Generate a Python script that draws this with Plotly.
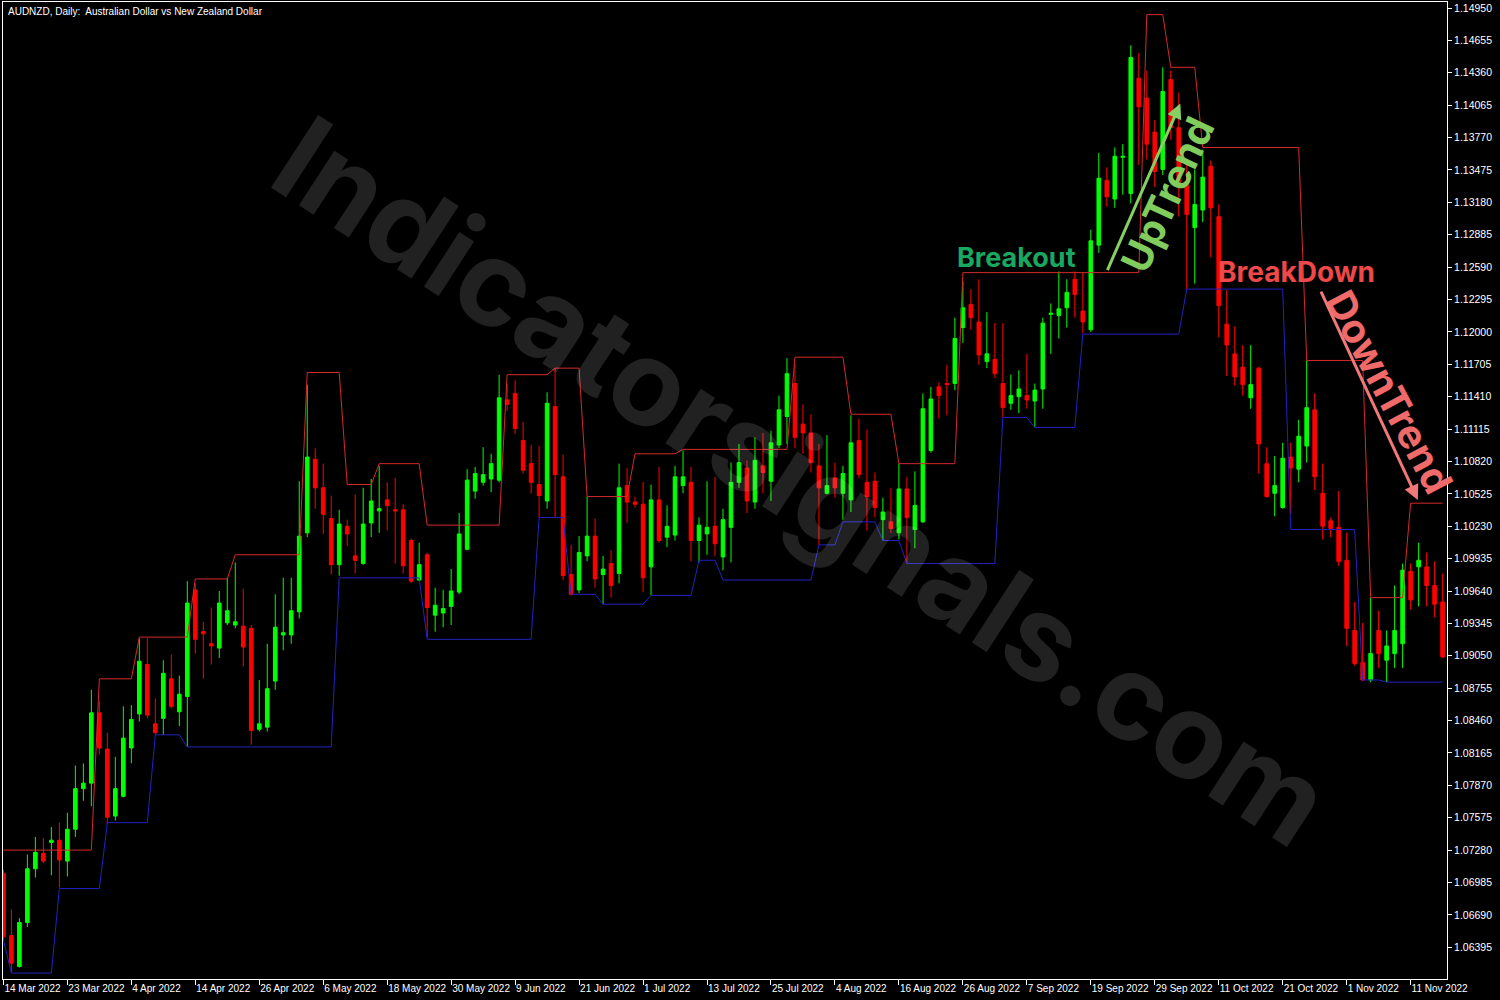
import numpy as np
import plotly.graph_objects as go

# ---------------- data ----------------
date_ticks = ["14 Mar 2022", "23 Mar 2022", "4 Apr 2022", "14 Apr 2022", "26 Apr 2022",
              "6 May 2022", "18 May 2022", "30 May 2022", "9 Jun 2022", "21 Jun 2022",
              "1 Jul 2022", "13 Jul 2022", "25 Jul 2022", "4 Aug 2022", "16 Aug 2022",
              "26 Aug 2022", "7 Sep 2022", "19 Sep 2022", "29 Sep 2022", "11 Oct 2022",
              "21 Oct 2022", "1 Nov 2022", "11 Nov 2022"]
date_tick_bars = [0, 8, 16, 24, 32, 40, 48, 56, 64, 72, 80, 88, 96, 104, 112, 120,
                  128, 136, 144, 152, 160, 168, 176]

price_ticks = ["1.06395", "1.06690", "1.06985", "1.07280", "1.07575", "1.07870", "1.08165",
               "1.08460", "1.08755", "1.09050", "1.09345", "1.09640", "1.09935", "1.10230",
               "1.10525", "1.10820", "1.11115", "1.11410", "1.11705", "1.12000", "1.12295",
               "1.12590", "1.12885", "1.13180", "1.13475", "1.13770", "1.14065", "1.14360",
               "1.14655", "1.14950"]

open_ = [1.0707, 1.0650, 1.0622, 1.0662, 1.0711, 1.0725, 1.0735, 1.0737, 1.0718, 1.0747,
         1.0784, 1.0789, 1.0853, 1.0820, 1.0759, 1.0777, 1.0821, 1.0852, 1.0897, 1.0843,
         1.0848, 1.0884, 1.0854, 1.0868, 1.0965, 1.0927, 1.0916, 1.0912, 1.0935, 1.0933,
         1.0932, 1.0930, 1.0838, 1.0840, 1.0882, 1.0924, 1.0924, 1.0945, 1.1017, 1.1084,
         1.1058, 1.1030, 1.0988, 1.1023, 1.0996, 1.0989, 1.1026, 1.1037, 1.1047, 1.1038,
         1.1038, 1.1010, 1.0974, 1.0997, 1.0942, 1.0944, 1.0950, 1.0963, 1.1002, 1.1055,
         1.1063, 1.1066, 1.1065, 1.1138, 1.1144, 1.1101, 1.1080, 1.1061, 1.1046, 1.1132,
         1.1068, 1.0979, 1.0965, 1.0996, 1.1014, 1.0979, 1.0989, 1.0980, 1.1060, 1.1045,
         1.1043, 1.0986, 1.1047, 1.1013, 1.1015, 1.1060, 1.1063, 1.1010, 1.1016, 1.1023,
         1.0995, 1.1022, 1.1063, 1.1076, 1.1045, 1.1078, 1.1064, 1.1097, 1.1123, 1.1153,
         1.1116, 1.1108, 1.1078, 1.1053, 1.1067, 1.1053, 1.1047, 1.1101, 1.1063, 1.1064,
         1.1029, 1.1027, 1.1017, 1.1057, 1.1020, 1.1027, 1.1092, 1.1150, 1.1153, 1.1153,
         1.1204, 1.1225, 1.1209, 1.1173, 1.1175, 1.1153, 1.1135, 1.1141, 1.1142, 1.1137,
         1.1148, 1.1216, 1.1215, 1.1222, 1.1248, 1.1219, 1.1202, 1.1279, 1.1338, 1.1321,
         1.1359, 1.1326, 1.1431, 1.1413, 1.1382, 1.1348, 1.1430, 1.1386, 1.1337, 1.1295,
         1.1311, 1.1351, 1.1305, 1.1207, 1.1180, 1.1168, 1.1140, 1.1167, 1.1080, 1.1053,
         1.1040, 1.1086, 1.1075, 1.1096, 1.1129, 1.1053, 1.1028, 1.1022, 1.0992, 1.0928,
         1.0899, 1.0883, 1.0928, 1.0901, 1.0907, 1.0916, 1.0982, 1.0986, 1.0986, 1.0969,
         1.0954]
high = [1.0710, 1.0674, 1.0666, 1.0724, 1.0740, 1.0739, 1.0749, 1.0753, 1.0762, 1.0805,
        1.0807, 1.0874, 1.0864, 1.0835, 1.0813, 1.0859, 1.0860, 1.0921, 1.0921, 1.0866,
        1.0901, 1.0906, 1.0887, 1.0973, 1.0971, 1.0936, 1.0949, 1.0964, 1.0976, 1.0990,
        1.0966, 1.0933, 1.0883, 1.0916, 1.0961, 1.0976, 1.0976, 1.1064, 1.1152, 1.1094,
        1.1080, 1.1051, 1.1038, 1.1029, 1.1052, 1.1058, 1.1066, 1.1078, 1.1063, 1.1067,
        1.1043, 1.1012, 1.1008, 1.0999, 1.0967, 1.0965, 1.0984, 1.1035, 1.1075, 1.1077,
        1.1095, 1.1089, 1.1161, 1.1153, 1.1156, 1.1118, 1.1097, 1.1096, 1.1145, 1.1167,
        1.1088, 1.1006, 1.1014, 1.1050, 1.1030, 1.0996, 1.1001, 1.1080, 1.1076, 1.1050,
        1.1063, 1.1061, 1.1077, 1.1042, 1.1078, 1.1092, 1.1077, 1.1031, 1.1064, 1.1068,
        1.1039, 1.1081, 1.1098, 1.1083, 1.1104, 1.1108, 1.1110, 1.1142, 1.1176, 1.1171,
        1.1134, 1.1125, 1.1098, 1.1106, 1.1081, 1.1078, 1.1124, 1.1121, 1.1111, 1.1072,
        1.1049, 1.1058, 1.1080, 1.1068, 1.1073, 1.1144, 1.1150, 1.1154, 1.1170, 1.1213,
        1.1246, 1.1239, 1.1248, 1.1218, 1.1208, 1.1208, 1.1161, 1.1165, 1.1180, 1.1153,
        1.1213, 1.1226, 1.1255, 1.1248, 1.1255, 1.1254, 1.1293, 1.1363, 1.1350, 1.1368,
        1.1371, 1.1461, 1.1454, 1.1438, 1.1393, 1.1441, 1.1438, 1.1418, 1.1352, 1.1348,
        1.1366, 1.1356, 1.1316, 1.1238, 1.1205, 1.1188, 1.1188, 1.1168, 1.1095, 1.1087,
        1.1099, 1.1099, 1.1120, 1.1174, 1.1144, 1.1080, 1.1031, 1.1055, 1.1017, 1.0954,
        1.0935, 1.0958, 1.0946, 1.0928, 1.0969, 1.0989, 1.0989, 1.1008, 1.0999, 1.0991,
        1.0980]
low = [1.0646, 1.0617, 1.0621, 1.0658, 1.0703, 1.0716, 1.0705, 1.0694, 1.0704, 1.0740,
       1.0773, 1.0768, 1.0815, 1.0752, 1.0755, 1.0776, 1.0807, 1.0845, 1.0848, 1.0833,
       1.0833, 1.0857, 1.0841, 1.0822, 1.0907, 1.0884, 1.0897, 1.0903, 1.0933, 1.0930,
       1.0895, 1.0824, 1.0836, 1.0836, 1.0874, 1.0910, 1.0916, 1.0939, 1.1013, 1.1039,
       1.1016, 1.0979, 1.0978, 1.1005, 1.0980, 1.0988, 1.1013, 1.1017, 1.1019, 1.0989,
       1.0980, 1.0971, 1.0973, 1.0922, 1.0927, 1.0931, 1.0933, 1.0961, 1.1001, 1.1048,
       1.1060, 1.1054, 1.1063, 1.1128, 1.1107, 1.1071, 1.1053, 1.1031, 1.1039, 1.1031,
       1.0974, 1.0960, 1.0962, 1.0991, 1.0967, 1.0952, 1.0958, 1.0971, 1.1026, 1.1040,
       1.0963, 1.0960, 1.1008, 1.1004, 1.1010, 1.1053, 1.0991, 1.0990, 1.0997, 1.0996,
       1.0983, 1.0990, 1.1058, 1.1035, 1.1039, 1.1053, 1.1046, 1.1094, 1.1098, 1.1094,
       1.1089, 1.1072, 1.1006, 1.1052, 1.1049, 1.1029, 1.1036, 1.1067, 1.1019, 1.1031,
       1.1010, 1.1017, 1.1011, 1.0989, 1.1003, 1.1026, 1.1090, 1.1121, 1.1124, 1.1147,
       1.1190, 1.1202, 1.1170, 1.1167, 1.1158, 1.1122, 1.1129, 1.1126, 1.1130, 1.1113,
       1.1130, 1.1180, 1.1194, 1.1204, 1.1213, 1.1199, 1.1200, 1.1272, 1.1314, 1.1313,
       1.1325, 1.1317, 1.1352, 1.1357, 1.1332, 1.1343, 1.1375, 1.1305, 1.1239, 1.1244,
       1.1300, 1.1268, 1.1195, 1.1160, 1.1151, 1.1142, 1.1130, 1.1071, 1.1049, 1.1032,
       1.1039, 1.1034, 1.1063, 1.1081, 1.1056, 1.1011, 1.1013, 1.0987, 1.0914, 1.0896,
       1.0882, 1.0881, 1.0894, 1.0881, 1.0894, 1.0894, 1.0947, 1.0950, 1.0950, 1.0940,
       1.0903]
close = [1.0649, 1.0625, 1.0662, 1.0711, 1.0726, 1.0718, 1.0737, 1.0719, 1.0747, 1.0784,
         1.0789, 1.0853, 1.0821, 1.0758, 1.0784, 1.0830, 1.0847, 1.0900, 1.0851, 1.0835,
         1.0889, 1.0859, 1.0870, 1.0953, 1.0920, 1.0925, 1.0914, 1.0953, 1.0946, 1.0936,
         1.0913, 1.0837, 1.0843, 1.0875, 1.0931, 1.0926, 1.0946, 1.1014, 1.1086, 1.1058,
         1.1034, 1.0988, 1.1025, 1.1016, 1.0992, 1.1025, 1.1046, 1.1039, 1.1042, 1.1037,
         1.0987, 1.0973, 1.0988, 1.0949, 1.0951, 1.0948, 1.0964, 1.1016, 1.1065, 1.1071,
         1.1070, 1.1080, 1.1140, 1.1134, 1.1112, 1.1074, 1.1063, 1.1051, 1.1135, 1.1070,
         1.0978, 1.0961, 1.0999, 1.1014, 1.0975, 1.0984, 1.0969, 1.1058, 1.1045, 1.1043,
         1.0976, 1.1047, 1.1010, 1.1023, 1.1068, 1.1068, 1.1010, 1.1024, 1.1022, 1.1007,
         1.1029, 1.1063, 1.1081, 1.1046, 1.1083, 1.1072, 1.1099, 1.1129, 1.1162, 1.1104,
         1.1108, 1.1081, 1.1058, 1.1060, 1.1058, 1.1071, 1.1099, 1.1070, 1.1050, 1.1040,
         1.1036, 1.1021, 1.1057, 1.1031, 1.1042, 1.1130, 1.1139, 1.1142, 1.1152, 1.1194,
         1.1222, 1.1213, 1.1179, 1.1180, 1.1162, 1.1131, 1.1142, 1.1148, 1.1138, 1.1147,
         1.1208, 1.1217, 1.1221, 1.1236, 1.1234, 1.1209, 1.1283, 1.1340, 1.1323, 1.1360,
         1.1360, 1.1450, 1.1405, 1.1371, 1.1346, 1.1419, 1.1386, 1.1334, 1.1307, 1.1316,
         1.1341, 1.1313, 1.1224, 1.1188, 1.1159, 1.1152, 1.1152, 1.1098, 1.1050, 1.1060,
         1.1085, 1.1076, 1.1105, 1.1131, 1.1068, 1.1023, 1.1021, 1.0991, 1.0930, 1.0898,
         1.0883, 1.0907, 1.0907, 1.0914, 1.0928, 1.0983, 1.0956, 1.0992, 1.0969, 1.0952,
         1.0904]

# channel lines: bar where each level starts, and the level
upper_start = [0, 12, 17, 24, 29, 38, 43, 47, 53, 63, 69, 73, 79, 85, 99, 106, 112, 120,
               143, 146, 150, 163, 171, 176]
upper_level = [1.0728, 1.0884, 1.0922, 1.0975, 1.0997, 1.1163, 1.1061, 1.1080, 1.1024,
               1.1161, 1.1167, 1.1050, 1.1089, 1.1093, 1.1177, 1.1125, 1.1080, 1.1254,
               1.1489, 1.1441, 1.1368, 1.1174, 1.0958, 1.1044]
lower_start = [0, 1, 7, 13, 19, 23, 42, 53, 67, 71, 75, 81, 87, 90, 102, 105, 110, 113,
               125, 129, 135, 148, 161, 170, 173]
lower_level = [1.0646, 1.0616, 1.0693, 1.0753, 1.0833, 1.0822, 1.0976, 1.0920, 1.1031,
               1.0961, 1.0952, 1.0960, 1.0992, 1.0974, 1.1006, 1.1027, 1.1010, 1.0989,
               1.1122, 1.1113, 1.1198, 1.1239, 1.1020, 1.0883, 1.0881]

# ---------------- build ----------------
n = len(close)
bars = list(range(n))


def expand(starts, levels, total):
    counts = np.diff(starts + [total])
    return np.repeat(levels, counts)


upper = expand(upper_start, upper_level, n)
lower = expand(lower_start, lower_level, n)

fig = go.Figure()
fig.add_trace(go.Candlestick(
    x=bars, open=open_, high=high, low=low, close=close,
    increasing=dict(line=dict(color="#00FF00", width=1), fillcolor="#00FF00"),
    decreasing=dict(line=dict(color="#FF0000", width=1), fillcolor="#FF0000"),
    whiskerwidth=0, showlegend=False, hoverinfo="skip"))
fig.add_trace(go.Scatter(x=bars, y=upper, mode="lines",
                         line=dict(color="#D42A2A", width=1), showlegend=False, hoverinfo="skip"))
fig.add_trace(go.Scatter(x=bars, y=lower, mode="lines",
                         line=dict(color="#2222C0", width=1), showlegend=False, hoverinfo="skip"))

xfont = dict(family="Liberation Sans", size=10, color="white")
yfont = dict(family="Liberation Sans", size=10.5, color="white")

fig.update_layout(
    width=1500, height=1000,
    paper_bgcolor="black", plot_bgcolor="black",
    margin=dict(l=3, r=53, t=2, b=21, autoexpand=False),
    showlegend=False,
    boxgap=0.35,
    xaxis=dict(range=[-0.05, 180.55], showgrid=False, zeroline=False, automargin=False,
               tickmode="array", tickvals=date_tick_bars, ticktext=date_ticks,
               tickangle=0,
               ticks="outside", ticklen=5, tickcolor="white",
               ticklabelposition="outside right",
               showline=True, linecolor="white", linewidth=1, mirror=True,
               tickfont=xfont, rangeslider=dict(visible=False), fixedrange=True),
    yaxis=dict(range=[1.06106, 1.15005], side="right", showgrid=False, zeroline=False,
               automargin=False,
               tickmode="array", tickvals=[float(t) for t in price_ticks], ticktext=price_ticks,
               ticks="outside", ticklen=4, tickcolor="white",
               showline=True, linecolor="white", linewidth=1, mirror=True,
               tickfont=yfont, fixedrange=True),
)

# watermark
fig.add_annotation(text="Indicatorsignals.com", x=99.9, y=1.1064, xref="x", yref="y",
                   showarrow=False, textangle=33,
                   font=dict(family="Inter", size=119, color="rgba(255,255,255,0.13)", weight=700))

# title
fig.add_annotation(text="AUDNZD, Daily:\u00a0 Australian Dollar vs New Zealand Dollar",
                   xref="paper", yref="paper", x=0.002, y=0.998, xanchor="left", yanchor="top",
                   showarrow=False, font=dict(family="Liberation Sans", size=10, color="white"))

# labels
fig.add_annotation(text="Breakout", x=126.7, y=1.1268, xref="x", yref="y", showarrow=False,
                   font=dict(family="Inter", size=27, color="#18A861", weight=700))
fig.add_annotation(text="BreakDown", x=161.7, y=1.1255, xref="x", yref="y", showarrow=False,
                   font=dict(family="Inter", size=28, color="#EE4848", weight=700))
fig.add_annotation(text="UpTrend", x=145.6, y=1.1325, xref="x", yref="y", showarrow=False,
                   textangle=-65,
                   font=dict(family="Inter", size=40, color="#80CC5C", weight=700))
fig.add_annotation(text="DownTrend", x=173.4, y=1.1145, xref="x", yref="y", showarrow=False,
                   textangle=62,
                   font=dict(family="Inter", size=40, color="#F06A6A", weight=700))

# trend arrows
fig.add_annotation(x=147.2, y=1.1408, ax=138.0, ay=1.1255, xref="x", yref="y",
                   axref="x", ayref="y", text="", showarrow=True, arrowhead=2,
                   arrowsize=1, arrowwidth=3, arrowcolor="#86CF62")
fig.add_annotation(x=176.9, y=1.1047, ax=164.7, ay=1.1238, xref="x", yref="y",
                   axref="x", ayref="y", text="", showarrow=True, arrowhead=2,
                   arrowsize=1, arrowwidth=3, arrowcolor="#F07878")

fig.write_html("out.html", config={"displayModeBar": False},
               post_script="document.body.style.margin='0px';document.body.style.overflow='hidden';")
